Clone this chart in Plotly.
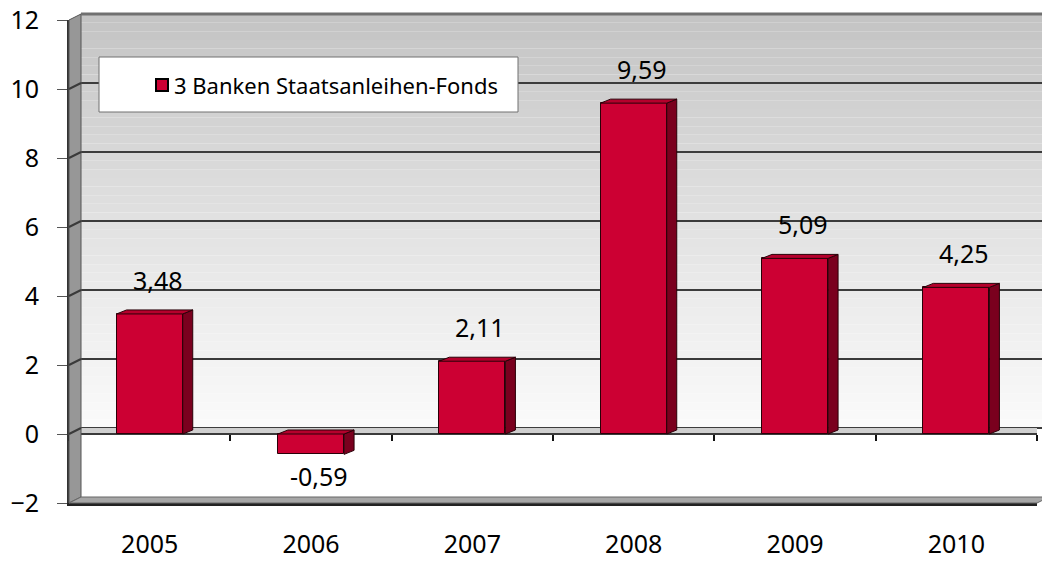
import plotly.graph_objects as go

# ---------------- data ----------------
years = ["2005", "2006", "2007", "2008", "2009", "2010"]
values = [3.48, -0.59, 2.11, 9.59, 5.09, 4.25]
series_name = "3 Banken Staatsanleihen-Fonds"
y_ticks = [-2, 0, 2, 4, 6, 8, 10, 12]
grid_vals = [0, 2, 4, 6, 8, 10]

# ---------------- geometry / style ----------------
OFF = 8                              # page body margin of the html page
W, H = 1050 - OFF, 562 - OFF
ML, MR, MT, MB = 69 - OFF, 1, 14 - OFF, 59
PW, PH = W - ML - MR, H - MT - MB
DX, DY = 12, 6                       # wall depth in px
FW, FH = PW - DX, PH - DY            # front plane size
n = len(years)
XR = [-0.5, n - 0.5]
YR = [-2, 12]
ppc = FW / n                         # px per category
ppu = FH / (YR[1] - YR[0])           # px per unit
bar_w = 0.41
bdx, bdy = 10 / ppc, 4 / ppu         # bar depth in data units
wdx, wdy = DX / ppc, DY / ppu        # wall depth in data units
FONT = "Noto Sans, Open Sans, DejaVu Sans, sans-serif"
RED, RED_TOP, RED_SIDE, EDGE = "#cc0033", "#b5002c", "#7a001e", "#2a0008"


def px_x(px):
    # page pixel -> paper fraction
    return (px - OFF - ML) / PW


def px_y(py):
    return (H - MB - (py - OFF)) / PH


fig = go.Figure()

# invisible trace so the back-wall subplot exists
fig.add_trace(go.Scatter(x=[XR[0]], y=[YR[0]], xaxis="x", yaxis="y", mode="markers",
                         marker=dict(opacity=0), hoverinfo="skip", showlegend=False))

# front faces of the bars
fig.add_trace(go.Bar(x=list(range(n)), y=values, width=bar_w, xaxis="x2", yaxis="y2",
                     marker=dict(color=RED, line=dict(color=EDGE, width=1)),
                     name=series_name, showlegend=False, hoverinfo="skip"))

# side and top faces (3D look)
sx, sy, tx, ty = [], [], [], []
for i, v in enumerate(values):
    lo, hi = min(v, 0), max(v, 0)
    xr_, xl_ = i + bar_w / 2, i - bar_w / 2
    sx += [xr_, xr_, xr_ + bdx, xr_ + bdx, xr_, None]
    sy += [lo, hi, hi + bdy, lo + bdy, lo, None]
    tx += [xl_, xr_, xr_ + bdx, xl_ + bdx, xl_, None]
    ty += [hi, hi, hi + bdy, hi + bdy, hi, None]
fig.add_trace(go.Scatter(x=sx, y=sy, xaxis="x2", yaxis="y2", mode="lines", fill="toself",
                         fillcolor=RED_SIDE, line=dict(color=EDGE, width=1),
                         hoverinfo="skip", showlegend=False))
fig.add_trace(go.Scatter(x=tx, y=ty, xaxis="x2", yaxis="y2", mode="lines", fill="toself",
                         fillcolor=RED_TOP, line=dict(color=EDGE, width=1),
                         hoverinfo="skip", showlegend=False))
# invisible trace for the tick axis on the zero line
fig.add_trace(go.Scatter(x=[XR[0]], y=[0], xaxis="x3", yaxis="y2", mode="markers",
                         marker=dict(opacity=0), hoverinfo="skip", showlegend=False))

shapes = []
# back wall gradient
shapes.append(dict(type="rect", xref="x", yref="y", x0=XR[0], x1=XR[1], y0=YR[0], y1=0,
                   fillcolor="#ffffff", line=dict(width=0), layer="below"))
steps = 48
c0, c1 = 250, 195
for k in range(steps):
    t = (k + 0.5) / steps
    c = int(round(c0 + (c1 - c0) * (t ** 1.15)))
    shapes.append(dict(type="rect", xref="x", yref="y", x0=XR[0], x1=XR[1],
                       y0=YR[1] * k / steps, y1=YR[1] * (k + 1) / steps,
                       fillcolor=f"rgb({c},{c},{c})", line=dict(width=0), layer="below"))

dxp, dyp, fwp, fhp = DX / PW, DY / PH, FW / PW, FH / PH
# left wall
shapes.append(dict(type="path", xref="paper", yref="paper",
                   path=f"M 0,0 L 0,{fhp} L {dxp},1 L {dxp},{dyp} Z",
                   fillcolor="#979797", line=dict(color="#555555", width=1), layer="above"))
# left wall grid diagonals
for v in grid_vals:
    shapes.append(dict(type="line", xref="paper", yref="y2", x0=0, x1=dxp, y0=v, y1=v + wdy,
                       line=dict(color="#3a3a3a", width=2), layer="above"))
# floor
shapes.append(dict(type="path", xref="paper", yref="paper",
                   path=f"M 0,0 L {fwp},0 L 1,{dyp} L {dxp},{dyp} Z",
                   fillcolor="#a6a6a6", line=dict(color="#666666", width=1), layer="above"))
# zero plane
shapes.append(dict(type="path", xref="x2", yref="y2",
                   path=f"M {XR[0]},0 L {XR[1]},0 L {XR[1] + wdx},{wdy} L {XR[0] + wdx},{wdy} Z",
                   fillcolor="#cfcfcf", line=dict(width=0), layer="below"))
# top border and right edge of back wall
shapes.append(dict(type="line", xref="paper", yref="paper", x0=dxp, x1=1, y0=1, y1=1,
                   line=dict(color="#707070", width=3), layer="above"))
shapes.append(dict(type="line", xref="paper", yref="paper", x0=1, x1=1, y0=dyp, y1=1,
                   line=dict(color="#b0b0b0", width=2), layer="above"))

# legend box (drawn manually to match the tall framed legend)
shapes.append(dict(type="rect", xref="paper", yref="paper", x0=px_x(99), x1=px_x(518),
                   y0=px_y(112), y1=px_y(57), fillcolor="#ffffff",
                   line=dict(color="#707070", width=1), layer="above"))
shapes.append(dict(type="rect", xref="paper", yref="paper", x0=px_x(156), x1=px_x(168),
                   y0=px_y(91), y1=px_y(79), fillcolor=RED,
                   line=dict(color="#000000", width=2), layer="above"))

annotations = [dict(xref="paper", yref="paper", x=px_x(172), y=px_y(85), xanchor="left",
                    yanchor="middle", text=series_name, showarrow=False,
                    font=dict(family=FONT, size=22, color="#000000"))]
# data labels
for i, v in enumerate(values):
    annotations.append(dict(xref="x2", yref="y2", x=i, y=v, xshift=8,
                            yshift=34 if v >= 0 else -22, xanchor="center", yanchor="middle",
                            text=f"{v:.2f}".replace(".", ","), showarrow=False,
                            font=dict(family=FONT, size=25, color="#000000")))

fig.update_layout(
    width=W, height=H, margin=dict(l=ML, r=MR, t=MT, b=MB, autoexpand=False),
    paper_bgcolor="#ffffff", plot_bgcolor="rgba(0,0,0,0)",
    showlegend=False, bargap=0,
    shapes=shapes, annotations=annotations,
    font=dict(family=FONT, size=25, color="#000000"),
    xaxis=dict(domain=[dxp, 1], range=XR, visible=False, anchor="y", fixedrange=True,
               automargin=False),
    yaxis=dict(domain=[dyp, 1], range=YR, anchor="x", showgrid=True, gridcolor="#3c3c3c",
               gridwidth=2, tickvals=grid_vals, showticklabels=False, ticks="",
               zeroline=False, showline=False, fixedrange=True, automargin=False),
    xaxis2=dict(domain=[0, fwp], range=XR, anchor="y2", tickvals=list(range(n)),
                ticktext=years, ticks="", showline=True, linecolor="#222222", linewidth=3,
                showgrid=False, zeroline=False, ticklabelstandoff=17, automargin=False,
                tickfont=dict(family=FONT, size=25, color="#000000"), fixedrange=True),
    yaxis2=dict(domain=[0, fhp], range=YR, anchor="x2", tickvals=y_ticks, ticks="outside",
                ticklen=10, tickcolor="#555555", tickwidth=1, showline=True,
                linecolor="#333333", linewidth=2, showgrid=False, zeroline=True,
                zerolinecolor="#3a3a3a", zerolinewidth=2, ticklabelstandoff=13,
                ticklabeloverflow="allow", automargin=False,
                tickfont=dict(family=FONT, size=25, color="#000000"), fixedrange=True),
    xaxis3=dict(overlaying="x2", anchor="free", position=(0 - YR[0]) * ppu / PH, side="bottom",
                range=XR, tickvals=[k - 0.5 for k in range(n + 1)], ticks="outside",
                ticklen=6, tickwidth=2, tickcolor="#111111", showticklabels=False,
                showgrid=False, zeroline=False, showline=False, fixedrange=True,
                automargin=False),
)

fig.write_html("out.html")
